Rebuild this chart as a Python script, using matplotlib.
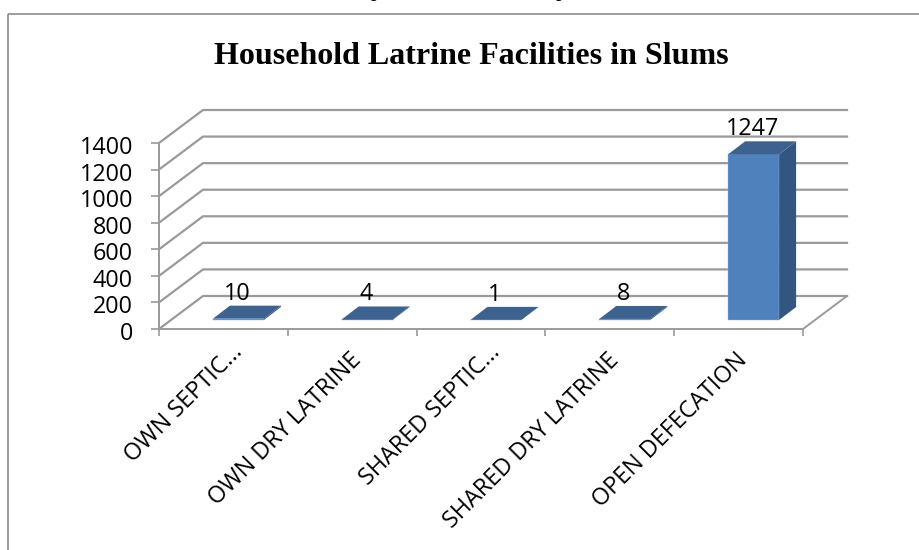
import matplotlib
matplotlib.use('Agg')
import matplotlib.pyplot as plt
from matplotlib.patches import Polygon, Rectangle
from matplotlib.transforms import ScaledTranslation

categories = ['OWN SEPTIC...', 'OWN DRY LATRINE', 'SHARED SEPTIC...', 'SHARED DRY LATRINE', 'OPEN DEFECATION']
values = [10, 4, 1, 8, 1247]
yticks = [0, 200, 400, 600, 800, 1000, 1200, 1400]
title = 'Household Latrine Facilities in Slums'

W, H = 920, 550
GRID = '#9a9a9a'
FRONT = '#4f81bd'
TOP = '#3e628f'
SIDE = '#335680'

fig = plt.figure(figsize=(W / 100, H / 100), dpi=100)
bg = fig.add_axes([0, 0, 1, 1])
bg.set_xlim(0, W)
bg.set_ylim(H, 0)
bg.axis('off')
bg.add_patch(Rectangle((8.5, 14), 1000, 600, fill=False, ec='#8c8c8c', lw=1.2))

# front plane of the fake 3d box, in pixels
ax = fig.add_axes([159 / W, 1 - 329 / H, 644 / W, 186 / H])
ax.patch.set_alpha(0)
ax.set_xlim(0, 5)
ax.set_ylim(0, 1400)
for s in ax.spines.values():
    s.set_visible(False)

# depth offset of the back wall, in data units
px_x = 5 / 644
px_y = 1400 / 186
dx = 44 * px_x
dy = 33 * px_y

for v in yticks:
    ax.plot([0, dx, 5 + dx], [v, v + dy, v + dy], color=GRID, lw=1.6, clip_on=False, zorder=1)
ax.plot([0, 0], [0, 1400], color=GRID, lw=1.4, clip_on=False, zorder=1)
ax.plot([0, 5, 5 + dx], [0, 0, dy], color=GRID, lw=1.4, clip_on=False, zorder=1)

# bars sit a bit behind the front edge
bar_w = 51 * px_x
off_x = 15 * px_x
off_y = 9 * px_y
dep_x = 17 * px_x
dep_y = 13 * px_y
xs = [i + 0.5 + off_x for i in range(len(values))]
ax.bar(xs, values, bar_w, bottom=off_y, color=FRONT, ec='#8fb0d8', lw=0.3, clip_on=False, zorder=3)
for x, v in zip(xs, values):
    l, r = x - bar_w / 2, x + bar_w / 2
    t = off_y + v
    ax.add_patch(Polygon([(r, off_y), (r + dep_x, off_y + dep_y), (r + dep_x, t + dep_y), (r, t)],
                         fc=SIDE, ec='none', clip_on=False, zorder=3))
    ax.add_patch(Polygon([(l, t), (l + dep_x, t + dep_y), (r + dep_x, t + dep_y), (r, t)],
                         fc=TOP, ec='none', clip_on=False, zorder=4))
    ax.text(x - 1.5 * px_x, t + dep_y + 6 * px_y, str(v), ha='center', va='baseline', fontsize=16.8,
            family='Open Sans', color='black', zorder=5)

ax.set_yticks(yticks)
ax.set_yticklabels([str(v) for v in yticks], family='Open Sans', fontsize=16.8)
ax.set_xticks(range(6))
ax.set_xticks([i + 0.5 for i in range(5)], minor=True)
ax.set_xticklabels([])
ax.set_xticklabels(categories, minor=True, rotation=45, ha='right', va='top', rotation_mode='anchor',
                   family='Open Sans', fontsize=16.8)
ax.tick_params(axis='y', length=6, width=1.2, color=GRID, pad=12.7)
ax.tick_params(axis='x', which='major', length=5, width=1.2, color=GRID)
ax.tick_params(axis='x', which='minor', length=0, pad=14)
for lab in ax.get_yticklabels():
    lab.set_transform(lab.get_transform() + ScaledTranslation(0, -2 / 100, fig.dpi_scale_trans))
for lab in ax.get_xticklabels(minor=True):
    # the shortened labels end further up and right than the full ones
    if lab.get_text().endswith('...'):
        shift = ScaledTranslation(7 / 100, 8 / 100, fig.dpi_scale_trans)
    else:
        shift = ScaledTranslation(-3 / 100, 0, fig.dpi_scale_trans)
    lab.set_transform(lab.get_transform() + shift)

bg.text(471, 57, title, ha='center', va='center', family='Liberation Serif', weight='bold', fontsize=23)

# feet of the "p"s from the page text cut off above the chart
bg.text(376, -4, 'p', ha='center', va='baseline', family='Liberation Serif', fontsize=16)
bg.text(561, -4, 'p', ha='center', va='baseline', family='Liberation Serif', fontsize=16)

fig.savefig('out.png', dpi=100)
